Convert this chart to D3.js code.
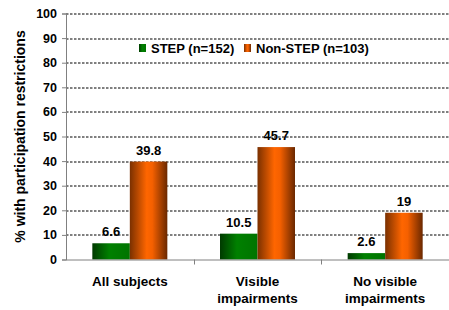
<!DOCTYPE html>
<html>
<head>
<meta charset="utf-8">
<script src="https://cdn.jsdelivr.net/npm/d3@7"></script>
<style>
  body { margin: 0; background: #fff; }
  text { font-family: Arial, "Liberation Sans", sans-serif; font-weight: bold; }
</style>
</head>
<body>
<div id="chart"></div>
<script>
// chart data
var categories = [["All subjects"], ["Visible", "impairments"], ["No visible", "impairments"]];
var seriesNames = ["STEP (n=152)", "Non-STEP (n=103)"];
var stepValues = [6.6, 10.5, 2.6];
var nonStepValues = [39.8, 45.7, 19];
var yTicks = [0, 10, 20, 30, 40, 50, 60, 70, 80, 90, 100];

var svgWidth = 449;
var svgHeight = 310;
var margin = { top: 13.5, right: 0, bottom: 50.5, left: 66 };
var width = svgWidth - margin.left - margin.right;
var height = svgHeight - margin.top - margin.bottom;

var svg = d3.select("#chart").append("svg")
  .attr("width", svgWidth)
  .attr("height", svgHeight);

// gradients for the bars
var defs = svg.append("defs");
var gGreen = defs.append("linearGradient").attr("id", "gradGreen");
gGreen.append("stop").attr("offset", "0%").attr("stop-color", "#003a00");
gGreen.append("stop").attr("offset", "45%").attr("stop-color", "#008000");
gGreen.append("stop").attr("offset", "100%").attr("stop-color", "#007400");
var gOrange = defs.append("linearGradient").attr("id", "gradOrange");
gOrange.append("stop").attr("offset", "0%").attr("stop-color", "#7a3000");
gOrange.append("stop").attr("offset", "45%").attr("stop-color", "#ff6600");
gOrange.append("stop").attr("offset", "60%").attr("stop-color", "#f56000");
gOrange.append("stop").attr("offset", "100%").attr("stop-color", "#6a2800");

var chartGroup = svg.append("g")
  .attr("transform", `translate(${margin.left}, ${margin.top})`);

var x0 = d3.scaleBand()
  .domain(d3.range(categories.length))
  .range([0, width]);

var x1 = d3.scaleBand()
  .domain([0, 1])
  .range([0, 75])
  .paddingInner(0);

var yScale = d3.scaleLinear()
  .domain([0, 100])
  .range([height, 0]);

// gridlines
chartGroup.append("g")
  .selectAll("line")
  .data(yTicks.filter(d => d > 0))
  .enter()
  .append("line")
  .attr("x1", 0)
  .attr("x2", width)
  .attr("y1", d => Math.round(yScale(d)) + 0.5)
  .attr("y2", d => Math.round(yScale(d)) + 0.5)
  .attr("stroke", "#000")
  .attr("stroke-width", 1)
  .attr("stroke-dasharray", "2.5,1.5");

// y axis
var leftAxis = d3.axisLeft(yScale).tickValues(yTicks).tickSize(4).tickPadding(5);
var yAxis = chartGroup.append("g").call(leftAxis);
yAxis.select(".domain").attr("stroke", "#808080");
yAxis.selectAll(".tick line").attr("stroke", "#808080");
yAxis.selectAll(".tick text")
  .attr("font-size", "12.5px")
  .attr("font-family", "Arial, 'Liberation Sans', sans-serif")
  .attr("font-weight", "bold")
  .attr("fill", "#000");

// bars
var bandOffset = (x0.bandwidth() - 75) / 2;
var groups = chartGroup.append("g")
  .selectAll("g")
  .data(categories.map((c, i) => [stepValues[i], nonStepValues[i]]))
  .enter()
  .append("g")
  .attr("transform", (d, i) => `translate(${x0(i) + bandOffset}, 0)`);

groups.selectAll("rect")
  .data(d => d)
  .enter()
  .append("rect")
  .attr("x", (d, j) => x1(j))
  .attr("width", x1.bandwidth())
  .attr("y", d => yScale(d))
  .attr("height", d => height - yScale(d))
  .attr("fill", (d, j) => j === 0 ? "url(#gradGreen)" : "url(#gradOrange)");

groups.selectAll("text")
  .data(d => d)
  .enter()
  .append("text")
  .attr("x", (d, j) => x1(j) + x1.bandwidth() / 2)
  .attr("y", d => yScale(d) - 7)
  .attr("text-anchor", "middle")
  .attr("font-size", "13px")
  .text(d => d);

// x axis
var xAxisG = chartGroup.append("g").attr("transform", `translate(0, ${height})`);
xAxisG.append("line")
  .attr("x1", 0).attr("x2", width)
  .attr("y1", 0.5).attr("y2", 0.5)
  .attr("stroke", "#808080");
xAxisG.selectAll(".xtick")
  .data(d3.range(1, categories.length))
  .enter()
  .append("line")
  .attr("x1", d => Math.round(x0(d)) + 0.5)
  .attr("x2", d => Math.round(x0(d)) + 0.5)
  .attr("y1", 0).attr("y2", 5)
  .attr("stroke", "#808080");

var catLabels = xAxisG.selectAll(".cat")
  .data(categories)
  .enter()
  .append("text")
  .attr("text-anchor", "middle")
  .attr("font-size", "13.5px")
  .attr("x", (d, i) => x0(i) + x0.bandwidth() / 2)
  .attr("y", 26);
catLabels.selectAll("tspan")
  .data(d => d)
  .enter()
  .append("tspan")
  .attr("x", function() { return d3.select(this.parentNode).attr("x"); })
  .attr("dy", (d, k) => k === 0 ? 0 : 17)
  .text(d => d);

// y axis title
svg.append("text")
  .attr("transform", `translate(25, ${margin.top + height / 2}) rotate(-90)`)
  .attr("text-anchor", "middle")
  .attr("font-size", "14px")
  .text("% with participation restrictions");

// legend
var legend = svg.append("g").attr("transform", "translate(139, 43)");
var legendX = [0, 105];
var legendItems = legend.selectAll("g")
  .data(seriesNames)
  .enter()
  .append("g")
  .attr("transform", (d, i) => `translate(${legendX[i]}, 0)`);
legendItems.append("rect")
  .attr("width", 7).attr("height", 8)
  .attr("y", 1)
  .attr("fill", (d, i) => i === 0 ? "url(#gradGreen)" : "url(#gradOrange)");
legendItems.append("text")
  .attr("x", 12)
  .attr("y", 9.5)
  .attr("font-size", "13px")
  .text(d => d);
</script>
</body>
</html>
